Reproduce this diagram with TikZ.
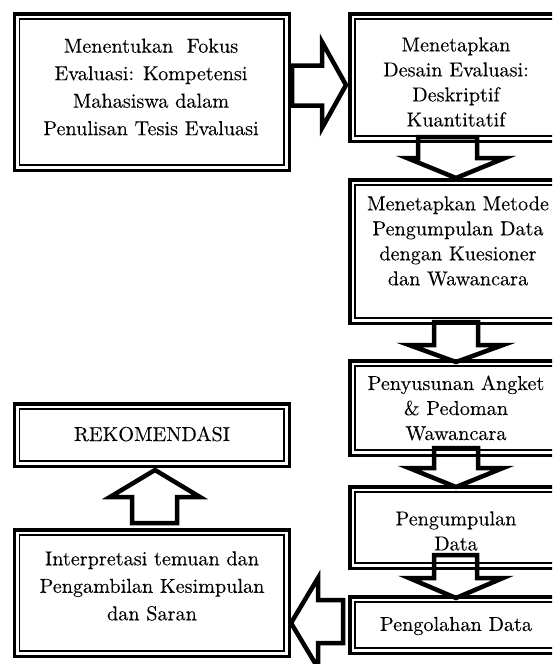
\documentclass[tikz,border=0pt]{standalone}
\usepackage{fontspec}
\setmainfont{lmroman10-regular}[Extension=.otf, FakeBold=0.12]
\usetikzlibrary{calc}
\begin{document}
\begin{tikzpicture}[x=1pt,y=-1pt,
  frame/.style={draw=black, line width=3.5pt, rectangle, inner sep=0pt, outer sep=0pt},
  barrow/.style={draw=black, fill=white, line width=4.5pt, line join=miter},
  txt/.style={align=center, inner sep=0pt, font=\fontsize{20.2}{27.5}\selectfont},
  txtb/.style={align=center, inner sep=0pt, font=\fontsize{20.2}{25}\selectfont}]
\useasboundingbox (0,0) rectangle (552,664);
\clip (0,0) rectangle (552,664);
\newcommand\innerframe[1]{\draw[line width=1.5pt] ([shift={(5.3,5.3)}]#1.north west) rectangle ([shift={(-5.3,-5.3)}]#1.south east);}
% arrow tips
\coordinate (a0tip) at (346,85);
\coordinate (a1tip) at (456,178);
\coordinate (a2tip) at (456,362);
\coordinate (a3tip) at (456,487);
\coordinate (a4tip) at (456,598);
\coordinate (a5tip) at (291,623);
\coordinate (a6tip) at (155,470);
% block arrows
\draw[barrow, shift={(a0tip)}] (0,0) -- (-24,-43) -- (-24,-19.5) -- (-54,-19.5) -- (-54,20.5) -- (-24,20.5) -- (-24,43) -- cycle;
\draw[barrow, shift={(a1tip)}] (0,0) -- (-49,-20) -- (-38,-20) -- (-38,-41) -- (21,-41) -- (21,-20) -- (49,-20) -- cycle;
\draw[barrow, shift={(a2tip)}] (0,0) -- (-47,-17) -- (-22,-17) -- (-22,-40) -- (22,-40) -- (22,-17) -- (47,-17) -- cycle;
\draw[barrow, shift={(a3tip)}] (0,0) -- (-47,-19) -- (-22,-19) -- (-22,-39) -- (22,-39) -- (22,-19) -- (47,-19) -- cycle;
\draw[barrow, shift={(a4tip)}] (0,0) -- (-47,-20) -- (-22,-20) -- (-22,-43) -- (21,-43) -- (21,-20) -- (47,-20) -- cycle;
\draw[barrow, shift={(a5tip)}] (0,0) -- (27,-45) -- (27,-23) -- (52,-23) -- (52,20) -- (27,20) -- (27,45) -- cycle;
\draw[barrow, shift={(a6tip)}] (0,0) -- (-45,27) -- (-23,27) -- (-23,53) -- (22,53) -- (22,27) -- (45,27) -- cycle;
% boxes
\node[frame, minimum width=275pt, minimum height=156.5pt] (b1) at (151.75,92) {};
\node[frame, minimum width=212.5pt, minimum height=127.5pt] (b2) at (456,77.5) {};
\node[frame, minimum width=212.5pt, minimum height=143.5pt] (b3) at (456,251.5) {};
\node[frame, minimum width=212.5pt, minimum height=94.5pt] (b4) at (456,408) {};
\node[frame, minimum width=212.5pt, minimum height=81.5pt] (b5) at (456,527.5) {};
\node[frame, minimum width=212.5pt, minimum height=56.5pt] (b6) at (456,625) {};
\node[frame, minimum width=275pt, minimum height=126.5pt] (b7) at (151.75,593) {};
\node[frame, minimum width=275pt, minimum height=62.5pt] (b8) at (151.75,435) {};
\innerframe{b1}\innerframe{b2}\innerframe{b3}\innerframe{b4}
\innerframe{b5}\innerframe{b6}\innerframe{b7}\innerframe{b8}
% texts
\node[txt] (t1) at (151,87) {Menentukan\ \ Fokus\\Evaluasi: Kompetensi\\Mahasiswa dalam\\Penulisan Tesis Evaluasi};
\node[txtb] (t2) at (456,82) {Menetapkan\\Desain Evaluasi:\\Deskriptif\\Kuantitatif};
\node[txtb] (t3) at (458,241) {Menetapkan Metode\\Pengumpulan Data\\dengan Kuesioner\\dan Wawancara};
\node[txtb] (t4) at (456,408) {Penyusunan Angket\\\& Pedoman\\Wawancara};
\node[txtb] (t5) at (456,531) {Pengumpulan\\Data};
\node[txt] (t6) at (456,626) {Pengolahan Data};
\node[txt] (t8) at (152,434) {REKOMENDASI};
\node[txt] (t7) at (152,586) {Interpretasi temuan dan\\Pengambilan Kesimpulan\\dan Saran};
\end{tikzpicture}
\end{document}
